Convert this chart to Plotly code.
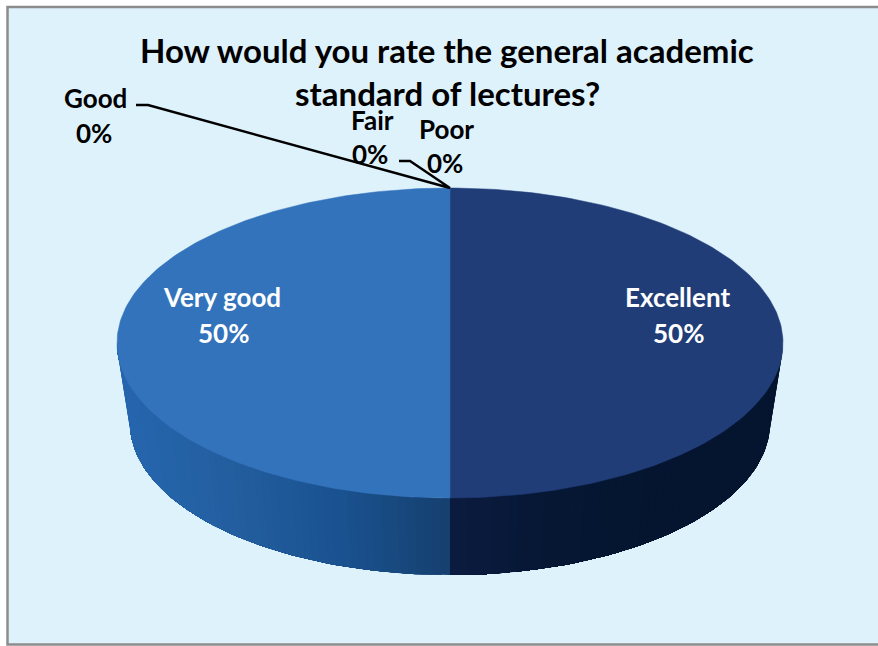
import numpy as np
import plotly.graph_objects as go

# Datos del grafico
categories = ["Excellent", "Very good", "Good", "Fair", "Poor"]
values = [50, 50, 0, 0, 0]
percent_labels = ["50%", "50%", "0%", "0%", "0%"]
title_lines = ["How would you rate the general academic", "standard of lectures?"]

# Colores
top_colors = {"Excellent": "#203D78", "Very good": "#3373BB"}
side_stops = {
    "Excellent": ["#0B1B40", "#051733", "#05152F", "#05152F"],
    "Very good": ["#2666AE", "#235E9F", "#1A5290", "#153F6E"],
}
BG = "#DEF2FC"
FONT = "Lato"

# Geometria del pie en pixeles de la pagina
CX, CY, RX, RY = 450, 343, 333, 155
BX, BY, BRX, BRY = 450, 423, 320, 152

W, H = 878, 646


def ellipse(t, cx, cy, rx, ry):
    return cx + rx * np.sin(t), cy - ry * np.cos(t)


def mix(stops, f):
    rgb = [[int(c[i:i + 2], 16) for i in (1, 3, 5)] for c in stops]
    p = f * (len(rgb) - 1)
    i = min(int(p), len(rgb) - 2)
    k = p - i
    out = [round(rgb[i][j] + (rgb[i + 1][j] - rgb[i][j]) * k) for j in range(3)]
    return "rgb(%d,%d,%d)" % tuple(out)


fig = go.Figure()

total = sum(values)
start = 0.0
slices = []
for name, val in zip(categories, values):
    span = val / total * 2 * np.pi
    slices.append((name, start, start + span))
    start += span

# Cara lateral: cada banda llega hasta el final de la porcion y la siguiente
# la tapa, asi no quedan rayas entre bandas
for name, a, b in slices:
    if b <= a:
        continue
    lo = max(a, np.pi / 2)
    hi = min(b, 3 * np.pi / 2)
    if hi <= lo:
        continue
    edges = np.linspace(lo, hi, 61)
    for i in range(60):
        t = np.linspace(edges[i], hi, 61 - i)
        x1, y1 = ellipse(t, CX, CY, RX, RY)
        x2, y2 = ellipse(t[::-1], BX, BY, BRX, BRY)
        xmid = np.sin((edges[i] + edges[i + 1]) / 2)
        # el degradado depende de la distancia horizontal al centro
        f = 1 - abs(xmid) if name == "Very good" else abs(xmid)
        col = mix(side_stops[name], f)
        fig.add_trace(go.Scatter(
            x=np.r_[x1, x2, x1[0]], y=np.r_[y1, y2, y1[0]],
            mode="lines", fill="toself", fillcolor=col,
            line=dict(color=col, width=0), hoverinfo="skip", showlegend=False,
        ))

# Cara superior
for name, a, b in slices:
    if b <= a:
        continue
    t = np.linspace(a, b, 181)
    x, y = ellipse(t, CX, CY, RX, RY)
    fig.add_trace(go.Scatter(
        x=np.r_[CX, x, CX], y=np.r_[CY, y, CY],
        mode="lines", fill="toself", fillcolor=top_colors[name],
        line=dict(color=top_colors[name], width=0.5),
        name=name, hoverinfo="skip", showlegend=False,
    ))

# Lineas guia de Good y Fair
fig.add_trace(go.Scatter(
    x=[136, 148, CX, 410, 399], y=[105, 105, CY - RY, 161, 161],
    mode="lines", line=dict(color="#000000", width=2.4),
    hoverinfo="skip", showlegend=False,
))

# Posicion de las etiquetas (centro de cada linea)
name_pos = [(677, 297), (222, 297), (95, 98), (372, 120), (446, 129)]
pct_pos = [(678, 333), (223, 333), (94, 133), (370, 154), (445, 163)]
text_col = ["#FFFFFF", "#FFFFFF", "#000000", "#000000", "#000000"]

annotations = []
for i, name in enumerate(categories):
    for txt, pos in ((name, name_pos[i]), (percent_labels[i], pct_pos[i])):
        annotations.append(dict(
            x=pos[0], y=pos[1], text="<b>%s</b>" % txt, showarrow=False,
            xanchor="center", yanchor="middle",
            font=dict(family=FONT, size=26, color=text_col[i]),
        ))
for txt, y in zip(title_lines, (50, 93)):
    annotations.append(dict(
        x=447, y=y, text="<b>%s</b>" % txt, showarrow=False,
        xanchor="center", yanchor="middle",
        font=dict(family=FONT, size=33, color="#000000"),
    ))

fig.update_layout(
    width=W, height=H, autosize=False,
    margin=dict(l=0, r=0, t=0, b=0),
    paper_bgcolor="#FFFFFF", plot_bgcolor="#FFFFFF",
    xaxis=dict(range=[0, W], visible=False, fixedrange=True),
    yaxis=dict(range=[H, 0], visible=False, fixedrange=True),
    shapes=[dict(
        type="rect", xref="x", yref="y", x0=7.5, y0=7, x1=W + 5, y1=644.5,
        fillcolor=BG, line=dict(color="#8C8C8C", width=2.5), layer="below",
    )],
    annotations=annotations,
)

fig.write_html(
    "out.html",
    config={"displayModeBar": False},
    post_script="document.body.style.margin='0';document.body.style.overflow='hidden';",
)
